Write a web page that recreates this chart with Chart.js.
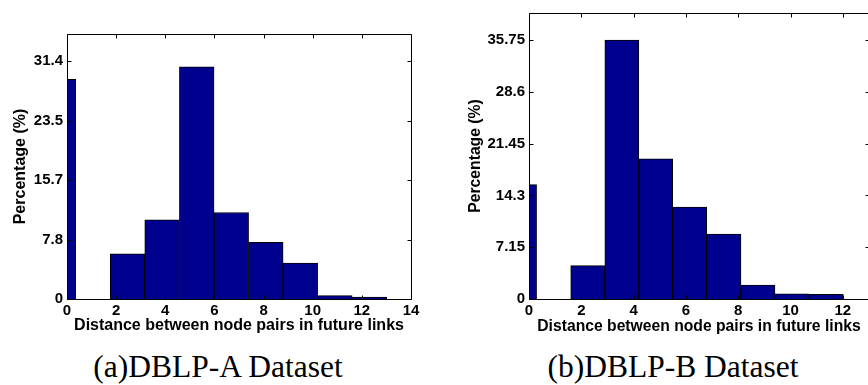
<!DOCTYPE html>
<html>
<head>
<meta charset="utf-8">
<script src="https://cdn.jsdelivr.net/npm/chart.js"></script>
<style>
  body { margin: 0; background: #fff; width: 868px; height: 385px; overflow: hidden; position: relative; }
  canvas { position: absolute; top: 0; }
  #chartA { left: 0; }
  #chartB { left: 440px; }
  .caption {
    position: absolute; top: 351px;
    font-family: "Liberation Serif", "Times New Roman", serif;
    font-size: 31.5px; line-height: 31px; white-space: nowrap;
    transform: translateX(-50%); color: #000;
  }
</style>
</head>
<body>
<canvas id="chartA" width="440" height="345"></canvas>
<canvas id="chartB" width="440" height="345"></canvas>
<div class="caption" style="left:218px">(a)DBLP-A Dataset</div>
<div class="caption" style="left:673px">(b)DBLP-B Dataset</div>
<script>
// DBLP-A histogram (bin centres, % per bin)
const binsA = [-0.35, 1.06, 2.46, 3.87, 5.28, 6.69, 8.09, 9.5, 10.9, 12.31];
const percentA = [29.0, 0, 5.98, 10.47, 30.65, 11.43, 7.48, 4.75, 0.44, 0.26];
const yTicksA = [0, 7.8, 15.7, 23.5, 31.4];
const yLabelsA = ['0', '7.8', '15.7', '23.5', '31.4'];

// DBLP-B histogram
const binsB = [-0.36, 0.94, 2.25, 3.55, 4.85, 6.14, 7.45, 8.76, 10.05, 11.36];
const percentB = [15.8, 0, 4.62, 35.75, 19.35, 12.71, 8.98, 1.93, 0.72, 0.63];
const yTicksB = [0, 7.15, 14.3, 21.45, 28.6, 35.75];
const yLabelsB = ['0', '7.15', '14.3', '21.45', '28.6', '35.75'];

const xTitle = 'Distance between node pairs in future links';
const yTitle = 'Percentage (%)';

Chart.defaults.font.family = "'Liberation Sans', Arial, sans-serif";
Chart.defaults.color = '#000';

// matlab style box with inward ticks on all four sides
const boxTicks = {
  id: 'boxTicks',
  afterDatasetsDraw(chart) {
    const { ctx, chartArea: a, scales: { x, y } } = chart;
    const len = 4;
    const l = Math.round(a.left) + 0.5, r = Math.round(a.right) + 0.5;
    const t = Math.round(a.top) + 0.5, b = Math.round(a.bottom) + 0.5;
    ctx.save();
    ctx.strokeStyle = '#000';
    ctx.lineWidth = 1;
    ctx.beginPath();
    ctx.rect(l, t, r - l, b - t);
    x.ticks.forEach(tk => {
      const px = Math.round(x.getPixelForValue(tk.value)) + 0.5;
      ctx.moveTo(px, b); ctx.lineTo(px, b - len);
      ctx.moveTo(px, t); ctx.lineTo(px, t + len);
    });
    y.ticks.forEach(tk => {
      const py = Math.round(y.getPixelForValue(tk.value)) + 0.5;
      ctx.moveTo(l, py); ctx.lineTo(l + len, py);
      ctx.moveTo(r, py); ctx.lineTo(r - len, py);
    });
    ctx.stroke();
    ctx.restore();
  }
};

function histogram(id, bins, values, xMax, yMax, yTicks, yLabels, geo) {
  return new Chart(document.getElementById(id), {
    type: 'bar',
    data: {
      datasets: [{
        data: bins.map((b, i) => ({ x: b, y: values[i] })),
        backgroundColor: '#00008f',
        borderColor: '#000',
        borderWidth: 1,
        barPercentage: 1,
        categoryPercentage: 1,
        barThickness: 'flex',
        clip: 0
      }]
    },
    options: {
      responsive: false,
      animation: false,
      devicePixelRatio: 1,
      layout: { padding: geo.padding },
      plugins: { legend: { display: false }, tooltip: { enabled: false } },
      scales: {
        x: {
          type: 'linear', min: 0, max: xMax, offset: false,
          grid: { display: false, drawTicks: false }, border: { display: false },
          ticks: { stepSize: 2, includeBounds: false, padding: 2.5, maxRotation: 0,
                   font: { size: 15, weight: 'bold' } },
          title: { display: true, text: xTitle, padding: { top: 0, bottom: 9.4 },
                   font: { size: geo.titleSize, weight: 'bold' } },
          afterFit: s => { s.height = geo.xAxisHeight; }
        },
        y: {
          min: 0, max: yMax,
          grid: { display: false, drawTicks: false }, border: { display: false },
          afterBuildTicks: s => { s.ticks = yTicks.map(v => ({ value: v })); },
          ticks: { autoSkip: false, padding: 4, callback: (v, i) => yLabels[i],
                   font: { size: 15, weight: 'bold' } },
          title: { display: true, text: yTitle, padding: { top: geo.yTitlePad, bottom: 0 },
                   font: { size: geo.titleSize, weight: 'bold' } },
          afterFit: s => { s.width = geo.yAxisWidth; }
        }
      }
    },
    plugins: [boxTicks]
  });
}

histogram('chartA', binsA, percentA, 14, 35, yTicksA, yLabelsA, {
  padding: { left: 0, right: 29, top: 34, bottom: 0 },
  yAxisWidth: 67, xAxisHeight: 46, titleSize: 16, yTitlePad: 11.4
});

histogram('chartB', binsB, percentB, 13, 39.5, yTicksB, yLabelsB, {
  padding: { left: 0, right: 11, top: 6, bottom: 0 },
  yAxisWidth: 89, xAxisHeight: 46, titleSize: 15.7, yTitlePad: 26.6
});
</script>
</body>
</html>
